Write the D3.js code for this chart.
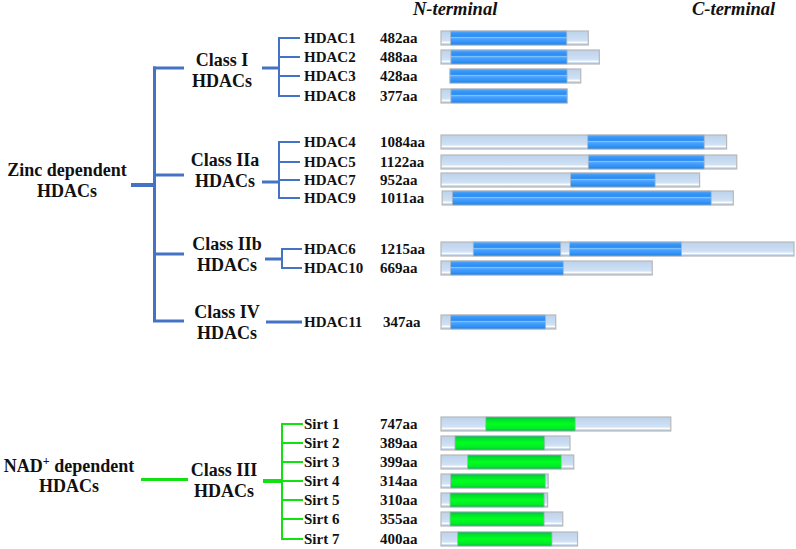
<!DOCTYPE html>
<html>
<head>
<meta charset="utf-8">
<script src="https://cdn.jsdelivr.net/npm/d3@7"></script>
<style>
  html, body { margin: 0; padding: 0; background: #ffffff; }
  svg { display: block; }
  text { font-family: "Liberation Serif", "Times New Roman", serif; font-weight: bold; fill: #111; }
</style>
</head>
<body>
<svg id="chart" width="796" height="549"></svg>
<script>
// ---------------- DATA ----------------
const hdacNames   = ["HDAC1","HDAC2","HDAC3","HDAC8","HDAC4","HDAC5","HDAC7","HDAC9","HDAC6","HDAC10","HDAC11"];
const hdacLengths = ["482aa","488aa","428aa","377aa","1084aa","1122aa","952aa","1011aa","1215aa","669aa","347aa"];
const hdacClass   = [0,0,0,0,1,1,1,1,2,2,3];
const hdacStart   = [0,0,31,0,0,0,0,4,0,0,0];
const hdacEnd     = [507,545,481,434,983,1018,890,1006,1215,727,395];
const hdacDomains = [[[33,433]],[[34,434]],[[31,434]],[[34,434]],[[505,906]],[[507,906]],[[446,737]],[[39,930]],[[111,412],[442,828]],[[33,421]],[[33,360]]];

const zincClasses = ["Class I","Class IIa","Class IIb","Class IV"];

const sirtNames   = ["Sirt 1","Sirt 2","Sirt 3","Sirt 4","Sirt 5","Sirt 6","Sirt 7"];
const sirtLengths = ["747aa","389aa","399aa","314aa","310aa","355aa","400aa"];
const sirtStart   = [0,0,0,0,0,0,0];
const sirtEnd     = [791,444,457,369,367,419,470];
const sirtDomains = [[[154,462]],[[48,357]],[[91,414]],[[33,359]],[[31,355]],[[31,355]],[[57,382]]];

// ---------------- LAYOUT ----------------
const svg = d3.select("#chart");
const x = d3.scaleLinear().domain([0, 1215]).range([441, 794]);
const hdacRowY = [38,57,76,96, 142,162,180,198, 249,268, 322];
const sirtRowY = [424,443,462,481,500,519,539];
const barH = 14;
const blueLine = "#4472C4";
const greenLine = "#11E011";

// gradients
const defs = svg.append("defs");
function grad(id, stops) {
  const g = defs.append("linearGradient").attr("id", id)
    .attr("x1", 0).attr("y1", 0).attr("x2", 0).attr("y2", 1);
  stops.forEach(s => g.append("stop").attr("offset", s[0]).attr("stop-color", s[1]));
}
grad("lightG", [[0,"#BDD3EC"],[0.5,"#C9DCF2"],[0.72,"#D3E3F5"],[0.8,"#FFFFFF"],[0.86,"#F4F8FD"],[0.9,"#C6D9EF"],[1,"#B5CCE6"]]);
grad("blueG",  [[0,"#5AAAF5"],[0.18,"#3597FA"],[0.38,"#2A8CF2"],[0.47,"#86C2FF"],[0.55,"#4AA3FF"],[0.85,"#2E90F5"],[1,"#1E7ED8"]]);
grad("greenG", [[0,"#00A844"],[0.14,"#00DD30"],[0.5,"#00FF1E"],[0.86,"#00E82A"],[1,"#00A63C"]]);

// ---------------- HEADERS ----------------
svg.append("text").attr("x", 413).attr("y", 15).style("font-size", "18.5px").style("font-style", "italic").text("N-terminal");
svg.append("text").attr("x", 692).attr("y", 15).style("font-size", "18.5px").style("font-style", "italic").text("C-terminal");

// ---------------- BARS ----------------
function drawBars(names, starts, ends, domains, rowY, fillId) {
  const g = svg.append("g");
  const rows = g.selectAll("g.row").data(names.map((n, i) => ({n, i}))).join("g").attr("class", "row");
  rows.append("rect")
    .attr("x", d => x(starts[d.i]))
    .attr("y", d => rowY[d.i] - barH / 2)
    .attr("width", d => x(ends[d.i]) - x(starts[d.i]))
    .attr("height", barH)
    .attr("fill", "url(#lightG)")
    .attr("stroke", "#B8B8B8").attr("stroke-width", 1.2);
  rows.each(function(d) {
    d3.select(this).selectAll("rect.dom").data(domains[d.i]).join("rect").attr("class", "dom")
      .attr("x", s => x(s[0]))
      .attr("y", rowY[d.i] - barH / 2)
      .attr("width", s => x(s[1]) - x(s[0]))
      .attr("height", barH)
      .attr("fill", `url(#${fillId})`)
      .attr("stroke", "#A9B7C6").attr("stroke-width", 0.8);
  });
}
drawBars(hdacNames, hdacStart, hdacEnd, hdacDomains, hdacRowY, "blueG");
drawBars(sirtNames, sirtStart, sirtEnd, sirtDomains, sirtRowY, "greenG");

// ---------------- LABELS ----------------
function rowLabels(names, lengths, rowY, lenX) {
  svg.append("g").selectAll("text").data(names).join("text")
    .attr("x", 304).attr("y", (d, i) => rowY[i] + 5).style("font-size", "15px").text(d => d);
  svg.append("g").selectAll("text").data(lengths).join("text")
    .attr("x", (d, i) => lenX(i)).attr("y", (d, i) => rowY[i] + 5).style("font-size", "15px").text(d => d);
}
rowLabels(hdacNames, hdacLengths, hdacRowY, i => hdacNames[i] === "HDAC11" ? 383 : 380);
rowLabels(sirtNames, sirtLengths, sirtRowY, () => 380);

// ---------------- TREE ----------------
function line(x1, y1, x2, y2, color, w) {
  svg.append("line").attr("x1", x1).attr("y1", y1).attr("x2", x2).attr("y2", y2)
    .attr("stroke", color).attr("stroke-width", w);
}
function twoLine(cx, y1, l1, l2, size) {
  const t = svg.append("text").attr("text-anchor", "middle").style("font-size", size + "px");
  t.append("tspan").attr("x", cx).attr("y", y1).text(l1);
  t.append("tspan").attr("x", cx).attr("y", y1 + 21).text(l2);
  return t;
}

// zinc dependent
const classLayout = [
  {branchY: 68,  cx: 222, base: 66,  joinY: 68,  vx: 279, x0: 262, endX: 300},
  {branchY: 175, cx: 225, base: 166, joinY: 182, vx: 279, x0: 262, endX: 300},
  {branchY: 254, cx: 227, base: 250, joinY: 259, vx: 282, x0: 265, endX: 302},
  {branchY: 321, cx: 227, base: 318, joinY: 322, vx: null, x0: 266, endX: 302}
];
twoLine(67, 176, "Zinc dependent", "HDACs", 18);
line(131, 185, 155, 185, blueLine, 4);
line(154.5, 66.5, 154.5, 322, blueLine, 3);
zincClasses.forEach((c, k) => {
  const L = classLayout[k];
  line(153, L.branchY, 184, L.branchY, blueLine, 3);
  twoLine(L.cx, L.base, c, "HDACs", 18);
  const rows = hdacRowY.filter((y, i) => hdacClass[i] === k);
  if (L.vx === null) {
    line(L.x0, L.joinY, L.endX, L.joinY, blueLine, 3);
  } else {
    line(L.x0, L.joinY, L.vx, L.joinY, blueLine, 3);
    line(L.vx, d3.min(rows) - 1, L.vx, d3.max(rows) + 1, blueLine, 2);
    rows.forEach(y => line(L.vx, y, L.endX, y, blueLine, 2));
  }
});

// NAD+ dependent
const nad = svg.append("text").attr("text-anchor", "middle").style("font-size", "18px");
nad.append("tspan").attr("x", 69).attr("y", 472).text("NAD");
nad.append("tspan").attr("dy", -7).style("font-size", "12px").text("+");
nad.append("tspan").attr("dy", 7).text(" dependent");
svg.append("text").attr("text-anchor", "middle").attr("x", 69).attr("y", 492).style("font-size", "18px").text("HDACs");
line(141, 479.5, 188, 479.5, greenLine, 3);
twoLine(224, 476, "Class III", "HDACs", 18);
line(263, 481, 282, 481, greenLine, 4);
line(282, d3.min(sirtRowY) - 1, 282, d3.max(sirtRowY) + 1, greenLine, 2);
sirtRowY.forEach(y => line(282, y, 303, y, greenLine, 2));
</script>
</body>
</html>
